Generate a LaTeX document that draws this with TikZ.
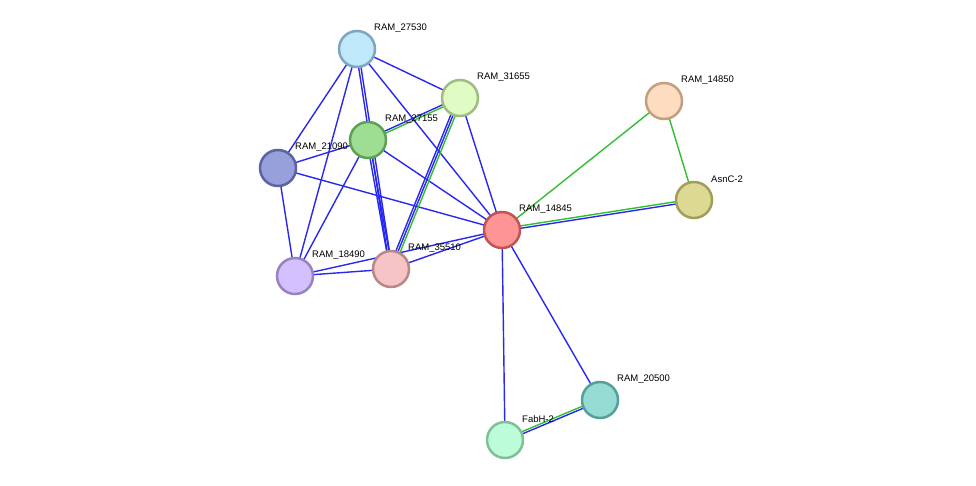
\documentclass[tikz,border=0pt]{standalone}
\usepackage{fontspec}
\setmainfont{Liberation Sans}
\begin{document}
\begin{tikzpicture}[x=1pt,y=-1pt,
  nd/.style={circle,minimum size=36pt,inner sep=0pt,line width=2.5pt},
  lb/.style={anchor=west,font=\fontsize{9.5}{10}\selectfont,inner sep=0pt},
  bl/.style={draw={rgb,255:red,40;green,40;blue,240},line width=1.4pt},
  gr/.style={draw={rgb,255:red,50;green,190;blue,50},line width=1.4pt}]
\useasboundingbox (0,0) rectangle (976,486);
\def\N#1#2#3#4#5#6{\definecolor{f#1}{HTML}{#4}\definecolor{s#1}{HTML}{#5}%
  \coordinate (#1) at (#2,#3);}
\N{a}{357}{49}{BFE8FB}{7FA6C0}{}
\N{b}{460}{98}{E0FCC4}{A0BB84}{}
\N{c}{368}{140}{9EDE92}{5FA057}{}
\N{d}{278}{168}{98A0DC}{5A64A0}{}
\N{e}{295}{276}{D4C0FC}{9683C0}{}
\N{f}{391}{269}{F6C4C4}{B88888}{}
\N{g}{502}{230}{FF9494}{C05454}{}
\N{h}{664}{101}{FEDCC0}{C0A080}{}
\N{i}{694}{200}{DCDA92}{A09E5A}{}
\N{j}{600}{400}{96DCD4}{55A098}{}
\N{k}{505}{440}{BCFCD8}{80C098}{}
% edges
\foreach \u/\v in {a/b,a/d,a/e,a/g,b/g,c/d,c/e,c/g,d/e,d/g,e/f,e/g,f/g,g/j,g/k}
  \path[bl] (\u) -- (\v);
\path[bl,transform canvas={xshift=-1.2pt}] (a) -- (f);
\path[bl,transform canvas={xshift=1.2pt}] (a) -- (f);
\path[bl,transform canvas={xshift=-1.2pt}] (c) -- (f);
\path[bl,transform canvas={xshift=1.2pt}] (c) -- (f);
\path[bl,transform canvas={yshift=1.2pt}] (b) -- (c);
\path[gr,transform canvas={yshift=-1.2pt}] (b) -- (c);
\path[bl,transform canvas={xshift=-2.4pt}] (b) -- (f);
\path[bl,transform canvas={xshift=0pt}] (b) -- (f);
\path[gr,transform canvas={xshift=2.4pt}] (b) -- (f);
\path[bl,transform canvas={yshift=-1.2pt}] (g) -- (i);
\path[gr,transform canvas={yshift=1.2pt}] (g) -- (i);
\path[gr] (g) -- (h);
\path[gr] (h) -- (i);
\path[bl,transform canvas={yshift=-1.2pt}] (j) -- (k);
\path[gr,transform canvas={yshift=1.2pt}] (j) -- (k);
% nodes
\foreach \n/\t in {a/RAM\_27530,b/RAM\_31655,c/RAM\_27155,d/RAM\_21090,e/RAM\_18490,f/RAM\_35510,g/RAM\_14845,h/RAM\_14850,i/AsnC-2,j/RAM\_20500,k/FabH-2}{
  \node[nd,fill=f\n,draw=s\n] (n\n) at (\n) {};
  \node[lb] (l\n) at ([shift={(17,-21)}]\n) {\t};
}
\end{tikzpicture}
\end{document}
